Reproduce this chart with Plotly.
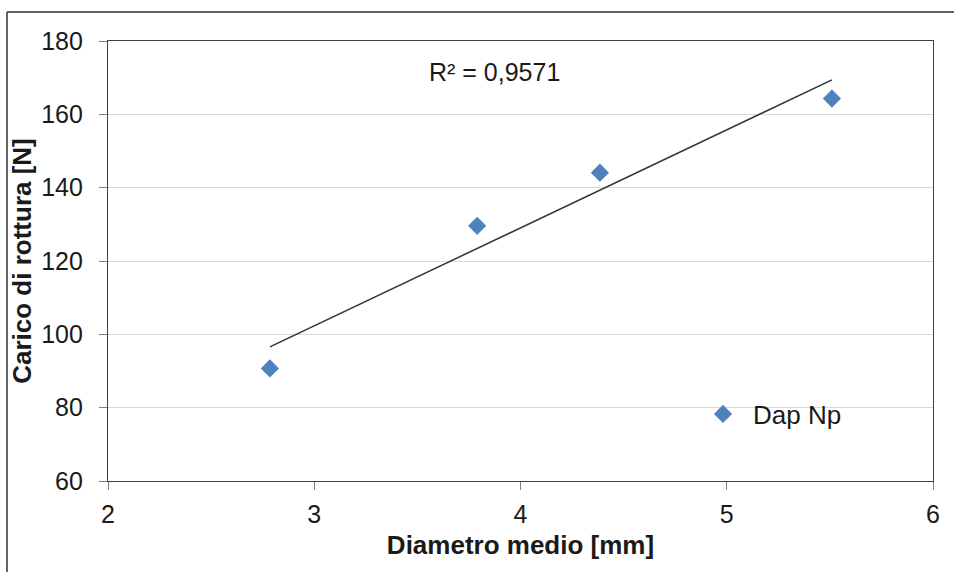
import numpy as np
import plotly.graph_objects as go

# Data
diametro = [2.785, 3.79, 4.385, 5.51]
carico = [90.7, 129.6, 144.1, 164.3]
series_name = "Dap Np"
r2_label = "R² = 0,9571"
x_title = "Diametro medio [mm]"
y_title = "Carico di rottura [N]"
x_ticks = [2, 3, 4, 5, 6]
y_ticks = [60, 80, 100, 120, 140, 160, 180]

# Linear trend line computed from the data
slope, intercept = np.polyfit(diametro, carico, 1)
trend_x = [min(diametro), max(diametro)]
trend_y = [slope * v + intercept for v in trend_x]

W, H = 954, 572
L, R, T, B = 108, 21, 41, 91
FONT = "Liberation Sans, Arial, sans-serif"
TXT = "#1a1a1a"

fig = go.Figure()
fig.add_trace(go.Scatter(
    x=trend_x, y=trend_y, mode="lines",
    line=dict(color="#333333", width=1.5),
    showlegend=False, hoverinfo="skip"))
fig.add_trace(go.Scatter(
    x=diametro, y=carico, mode="markers", name=series_name,
    marker=dict(symbol="diamond", size=14, color="#4F81BD")))

pw = W - L - R
ph = H - T - B
def px_x(px):
    return (px - L) / pw
def px_y(py):
    return (H - B - py) / ph

# Outer chart frame (left and top edges visible)
fig.add_shape(type="line", xref="paper", yref="paper",
              x0=px_x(7), x1=px_x(W + 5), y0=px_y(12), y1=px_y(12),
              line=dict(color="#333333", width=1.5))
fig.add_shape(type="line", xref="paper", yref="paper",
              x0=px_x(7), x1=px_x(7), y0=px_y(12), y1=px_y(H + 5),
              line=dict(color="#333333", width=1.5))

fig.add_annotation(x=px_x(427), y=px_y(72), xref="paper", yref="paper",
                   text=r2_label, showarrow=False,
                   xanchor="left", yanchor="middle",
                   font=dict(family=FONT, size=25, color=TXT))

axis_common = dict(
    showline=True, linecolor="#404040", linewidth=1.2, mirror=True,
    ticks="outside", ticklen=8, tickcolor="#808080", tickwidth=1,
    tickfont=dict(family=FONT, size=25, color=TXT),
    zeroline=False,
)

fig.update_xaxes(range=[2, 6], tickvals=x_ticks, showgrid=False,
                 ticklabelstandoff=3,
                 title=dict(text="<b>" + x_title + "</b>", standoff=8,
                            font=dict(family=FONT, size=26, color=TXT)),
                 **axis_common)
fig.update_yaxes(range=[60, 180], tickvals=y_ticks, showgrid=True,
                 gridcolor="#D9D9D9", gridwidth=1,
                 ticklabelstandoff=11,
                 title=dict(text="<b>" + y_title + "</b>", standoff=2,
                            font=dict(family=FONT, size=26, color=TXT)),
                 **axis_common)

fig.update_layout(
    width=W, height=H,
    margin=dict(l=L, r=R, t=T, b=B, autoexpand=False),
    paper_bgcolor="white", plot_bgcolor="white",
    font=dict(family=FONT, color=TXT),
    legend=dict(x=px_x(693), y=px_y(414), xanchor="left", yanchor="middle",
                itemwidth=50, bgcolor="rgba(0,0,0,0)",
                font=dict(family=FONT, size=26, color=TXT)),
    showlegend=True,
)

fig.write_html("out.html")
